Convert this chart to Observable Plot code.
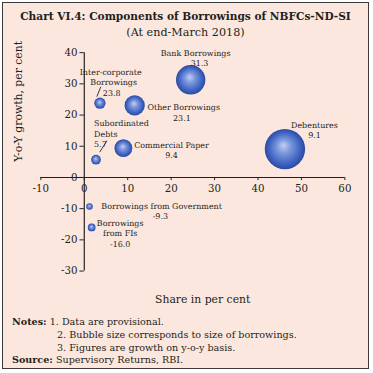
<!DOCTYPE html>
<html>
<head>
<meta charset="utf-8">
<script src="https://cdn.jsdelivr.net/npm/d3@7"></script>
<script src="https://cdn.jsdelivr.net/npm/@observablehq/plot@0.6"></script>
<style>
  html, body { margin: 0; padding: 0; background: #fff; }
  #frame {
    position: absolute; left: 2px; top: 2px; width: 367px; height: 367px;
    box-sizing: border-box; border: 1.5px solid #3a3a3a; background: #fce7de;
    font-family: "DejaVu Serif", serif; color: #231f20; overflow: hidden;
  }
  #title { position: absolute; left: 0; top: 7px; width: 100%; text-align: center;
    font-weight: bold; font-size: 10.6px; white-space: nowrap; }
  #subtitle { position: absolute; left: 0; top: 23px; width: 100%; text-align: center;
    font-size: 11.2px; }
  #chart { position: absolute; left: -2px; top: -2px; }
  #notes { position: absolute; left: 9px; top: 313px; font-size: 9.6px; line-height: 12.8px; white-space: nowrap; }
  #notes b { font-weight: bold; }
  .ind { padding-left: 45px; }
</style>
</head>
<body>
<div id="frame">
  <div id="title">Chart VI.4: Components of Borrowings of NBFCs-ND-SI</div>
  <div id="subtitle">(At end-March 2018)</div>
  <div id="chart"></div>
  <div id="notes">
    <div><b>Notes:</b> 1. Data are provisional.</div>
    <div class="ind">2. Bubble size corresponds to size of borrowings.</div>
    <div class="ind">3. Figures are growth on y-o-y basis.</div>
    <div><b>Source:</b> Supervisory Returns, RBI.</div>
  </div>
</div>
<script>
// ---- data ----
const names = ["Bank Borrowings", "Inter-corporate Borrowings", "Other Borrowings", "Subordinated Debts",
               "Commercial Paper", "Debentures", "Borrowings from Government", "Borrowings from FIs"];
const share = [24.5, 3.6, 11.6, 2.7, 9.0, 46.2, 1.2, 1.7];
const growth = [31.3, 23.8, 23.1, 5.7, 9.4, 9.1, -9.3, -16.0];
const xTicks = [-10, 0, 10, 20, 30, 40, 50, 60];
const yTicks = [-30, -20, -10, 0, 10, 20, 30, 40];

const data = names.map((n, i) => ({name: n, share: share[i], growth: growth[i]}));

// label layout (pixel offsets from bubble centre)
const labelLayout = {
  "Bank Borrowings": [["Bank Borrowings", 5, -27, "middle"], ["31.3", 9, -17, "middle"]],
  "Inter-corporate Borrowings": [["Inter-corporate", 11, -31, "middle"], ["Borrowings", 14, -21, "middle"], ["23.8", 3, -10, "start"]],
  "Other Borrowings": [["Other Borrowings", 13, 2, "start"], ["23.1", 48, 13, "middle"]],
  "Subordinated Debts": [["Subordinated", -2, -37, "start"], ["Debts", -2, -26, "start"], ["5.7", -2, -15, "start"]],
  "Commercial Paper": [["Commercial Paper", 11, -3, "start"], ["9.4", 49, 7, "middle"]],
  "Debentures": [["Debentures", 30, -24, "middle"], ["9.1", 30, -14, "middle"]],
  "Borrowings from Government": [["Borrowings from Government", 12, 0, "start"], ["-9.3", 72, 10, "middle"]],
  "Borrowings from FIs": [["Borrowings", 29, -4, "middle"], ["from FIs", 29, 6, "middle"], ["-16.0", 29, 17, "middle"]]
};
const leaders = {
  "Inter-corporate Borrowings": {dx: -3, dy: -7, length: 10, rotate: 22},
  "Subordinated Debts": {dx: 4, dy: -8, length: 13, rotate: 32}
};

const labelMarks = [];
for (const d of data) {
  for (const [t, dx, dy, anchor] of labelLayout[d.name]) {
    labelMarks.push(Plot.text([d], {x: "share", y: "growth", text: () => t, dx, dy,
      textAnchor: anchor, fontSize: 8.1, fill: "#231f20", fontFamily: "DejaVu Serif"}));
  }
}
const lineShape = {draw(context, l) { context.moveTo(0, 0); context.lineTo(0, -l); }};
const leaderMarks = data.filter(d => leaders[d.name]).map(d => {
  const L = leaders[d.name];
  return Plot.vector([d], {x: "share", y: "growth", length: L.length, rotate: L.rotate,
    anchor: "start", shape: lineShape, dx: L.dx, dy: L.dy, stroke: "#231f20", strokeWidth: 0.8});
});

const plot = Plot.plot({
  width: 373, height: 290,
  marginLeft: 40, marginRight: 24, marginTop: 52, marginBottom: 16,
  style: {background: "transparent", fontFamily: "DejaVu Serif", fontSize: "10px", color: "#231f20"},
  x: {domain: [-10, 60], axis: null},
  y: {domain: [-30, 40], axis: null},
  r: {range: [0, 20.5]},
  marks: [
    Plot.ruleY([0], {x1: -10, x2: 60, stroke: "#231f20", strokeWidth: 1.2}),
    Plot.ruleX([0], {y1: -30, y2: 40, stroke: "#231f20", strokeWidth: 1.2}),
    Plot.ruleX(xTicks, {x: d => d, y1: 0, y2: -1, stroke: "#231f20", strokeWidth: 1}),
    Plot.ruleY(yTicks, {y: d => d, x1: 0, x2: -1, stroke: "#231f20", strokeWidth: 1}),
    Plot.text(xTicks, {x: d => d, y: 0, dy: 11, text: d => String(d), fontSize: 10.4, fill: "#231f20"}),
    Plot.text(yTicks, {x: 0, y: d => d, dx: -7, text: d => String(d), textAnchor: "end", fontSize: 10.4, fill: "#231f20"}),
    Plot.dot(data, {x: "share", y: "growth", r: "share", fill: "url(#bubbleGrad)", stroke: "none"}),
    ...leaderMarks,
    ...labelMarks,
    Plot.text(["Y-o-Y growth, per cent"], {frameAnchor: "left", text: d => d, rotate: -90, dx: -23, dy: 0, fontSize: 11, fill: "#231f20"}),
    Plot.text(["Share in per cent"], {frameAnchor: "bottom", text: d => d, dx: 10, dy: 32, fontSize: 11, fill: "#231f20"})
  ]
});

const ns = "http://www.w3.org/2000/svg";
const defs = document.createElementNS(ns, "defs");
defs.innerHTML = `<radialGradient id="bubbleGrad" cx="50%" cy="50%" r="50%" fx="46%" fy="40%">
  <stop offset="0%" stop-color="#c3cff2"/>
  <stop offset="35%" stop-color="#7b97dc"/>
  <stop offset="75%" stop-color="#4266c4"/>
  <stop offset="100%" stop-color="#2a4aa2"/>
</radialGradient>`;
plot.insertBefore(defs, plot.firstChild);
plot.style.overflow = "visible";
document.getElementById("chart").appendChild(plot);
</script>
</body>
</html>
